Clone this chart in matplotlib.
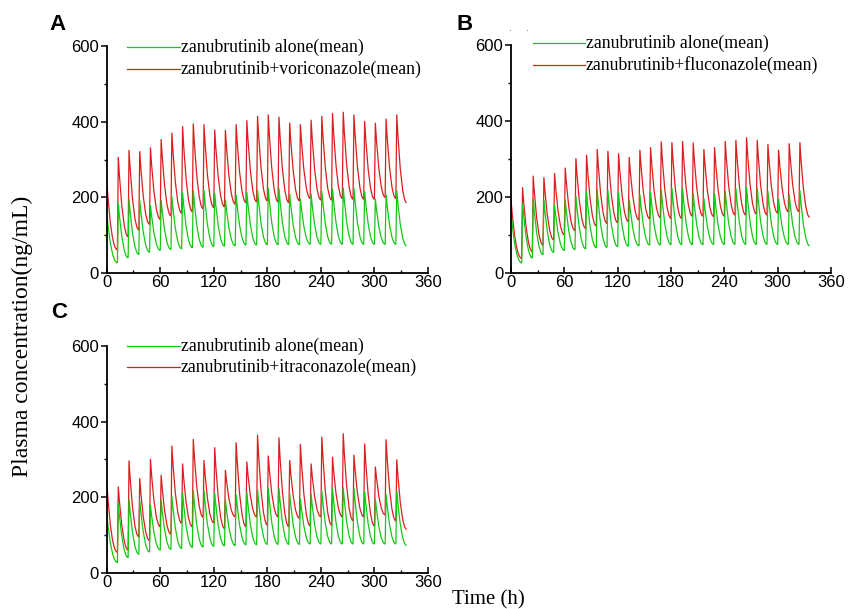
import numpy as np
import matplotlib
matplotlib.use("Agg")
import matplotlib.pyplot as plt
from matplotlib.lines import Line2D
from matplotlib.path import Path
from matplotlib.patches import PathPatch
from matplotlib.ticker import MultipleLocator

plt.rcParams["font.family"] = ["Liberation Sans", "DejaVu Sans"]
SERIF = ["Liberation Serif", "DejaVu Serif"]

# dosing every 12 h, peak about 1 h after each dose
dose_times = np.arange(12, 336, 12)
peak_delay = 1
end_time = 336

# zanubrutinib alone (same in all panels)
alone_start = 160
alone_peaks = [185, 196, 193, 180, 193, 203, 213, 219, 219, 212, 194, 207, 214, 220,
               225, 224, 210, 197, 210, 217, 223, 226, 225, 216, 196, 208, 218]
alone_troughs = [27, 40, 49, 55, 60, 62, 64, 67, 68, 70, 71, 72, 74, 74,
                 75, 75, 75, 75, 76, 76, 76, 76, 76, 76, 76, 76, 76]
alone_end = 72

# + voriconazole
vori_start = 247
vori_peaks = [307, 325, 322, 332, 354, 371, 388, 395, 393, 379, 378, 393, 404, 415,
              419, 413, 397, 393, 405, 415, 423, 426, 419, 402, 397, 408, 419]
vori_troughs = [61, 96, 114, 129, 142, 151, 158, 162, 170, 173, 175, 182, 186, 188,
                191, 188, 186, 191, 197, 193, 193, 197, 195, 195, 195, 200, 197]
vori_end = 186

# + fluconazole
fluc_start = 194
fluc_peaks = [226, 256, 252, 263, 277, 302, 311, 326, 321, 315, 305, 324, 331, 346,
              344, 347, 343, 326, 331, 347, 350, 357, 350, 339, 324, 341, 344]
fluc_troughs = [39, 57, 74, 88, 101, 112, 118, 124, 131, 133, 136, 140, 143, 146,
                144, 144, 150, 150, 149, 150, 153, 153, 156, 153, 158, 162, 162]
fluc_end = 147

# + itraconazole
itra_start = 244
itra_peaks = [228, 297, 250, 301, 259, 336, 289, 354, 298, 332, 272, 345, 294, 365,
              310, 358, 298, 341, 289, 360, 307, 369, 312, 342, 281, 353, 300]
itra_troughs = [54, 60, 95, 85, 122, 102, 131, 122, 147, 132, 117, 148, 122, 148,
                126, 148, 122, 144, 124, 148, 126, 148, 138, 148, 124, 153, 137]
itra_end = 115

panels = [
    ("A", "zanubrutinib+voriconazole(mean)", vori_start, vori_peaks, vori_troughs, vori_end),
    ("B", "zanubrutinib+fluconazole(mean)", fluc_start, fluc_peaks, fluc_troughs, fluc_end),
    ("C", "zanubrutinib+itraconazole(mean)", itra_start, itra_peaks, itra_troughs, itra_end),
]

GREEN = "#14c814"
RED = "#dc1e1e"
LW = 0.9

W, H = 850, 609


def fx(px):
    return px / W


def fy(py):
    return 1 - py / H


def curve_path(start, peaks, troughs, end):
    # sharp rise after each dose, curved decay down to the next trough
    verts = [(0, start)]
    codes = [Path.MOVETO]
    last_t = 0
    for d, tr, pk in zip(dose_times, troughs, peaks):
        verts += [(last_t + 5, tr), (d, tr), (d + peak_delay, pk)]
        codes += [Path.CURVE3, Path.CURVE3, Path.LINETO]
        last_t = d + peak_delay
    verts += [(last_t + 5, end), (end_time, end)]
    codes += [Path.CURVE3, Path.CURVE3]
    return Path(verts, codes)


# axes boxes in pixels: left, right (x 0..360), top, bottom (y 600..0)
boxes = {
    "A": (106.7, 428, 46, 273),
    "B": (511, 831, 44.6, 273.3),
    "C": (106.7, 428, 346, 572.7),
}
# legend rows y (px) and legend line x range
legend_pos = {
    "A": (47, 69, 127, 180),
    "B": (43, 65, 533, 585),
    "C": (346, 367, 127, 180),
}
letter_pos = {"A": (57, 24), "B": (465, 25), "C": (59, 312)}

fig = plt.figure(figsize=(8.5, 6.09), dpi=100)
fig.patch.set_facecolor("white")

for letter, label, start, peaks, troughs, end in panels:
    l, r, top, bot = boxes[letter]
    ax = fig.add_axes([fx(l), fy(bot), (r - l) / W, (bot - top) / H])

    ax.add_patch(PathPatch(curve_path(start, peaks, troughs, end),
                           fill=False, edgecolor=RED, linewidth=LW))
    ax.add_patch(PathPatch(curve_path(alone_start, alone_peaks, alone_troughs, alone_end),
                           fill=False, edgecolor=GREEN, linewidth=LW))

    ax.set_xlim(0, 360)
    ax.set_ylim(0, 600)
    ax.xaxis.set_major_locator(MultipleLocator(60))
    ax.xaxis.set_minor_locator(MultipleLocator(30))
    ax.yaxis.set_major_locator(MultipleLocator(200))
    ax.yaxis.set_minor_locator(MultipleLocator(100))

    for side in ["top", "right"]:
        ax.spines[side].set_visible(False)
    for side in ["left", "bottom"]:
        ax.spines[side].set_linewidth(1.3)
        ax.spines[side].set_color("black")

    ax.tick_params(axis="both", which="major", labelsize=12, width=1.1, length=4,
                   direction="out", pad=1.5)
    ax.tick_params(axis="both", which="minor", width=1.0, length=2.5, direction="out")
    ax.tick_params(axis="x", which="both", direction="in")

    # legend drawn by hand
    y1, y2, xa, xb = legend_pos[letter]
    fig.add_artist(Line2D([fx(xa), fx(xb)], [fy(y1), fy(y1)], color=GREEN, linewidth=LW))
    fig.add_artist(Line2D([fx(xa), fx(xb)], [fy(y2), fy(y2)], color=RED, linewidth=LW))
    fig.text(fx(xb + 1), fy(y1), "zanubrutinib alone(mean)", family=SERIF,
             fontsize=12.8, va="center", ha="left")
    fig.text(fx(xb + 1), fy(y2), label, family=SERIF,
             fontsize=12.8, va="center", ha="left")

    lx, ly = letter_pos[letter]
    fig.text(fx(lx), fy(ly), letter, fontsize=16, fontweight="bold",
             ha="center", va="center")

# two stray specks above panel B's legend in the original figure
fig.text(fx(510), fy(31), "·", fontsize=7, color="#555555", ha="center", va="center")
fig.text(fx(527), fy(31), "·", fontsize=7, color="#555555", ha="center", va="center")

fig.text(fx(22), fy(336), "Plasma concentration(ng/mL)", family=SERIF, fontsize=17,
         rotation=90, ha="center", va="center")
fig.text(fx(452), fy(600), "Time (h)", family=SERIF, fontsize=15,
         ha="left", va="center")

fig.savefig("out.png", dpi=100, facecolor="white")
